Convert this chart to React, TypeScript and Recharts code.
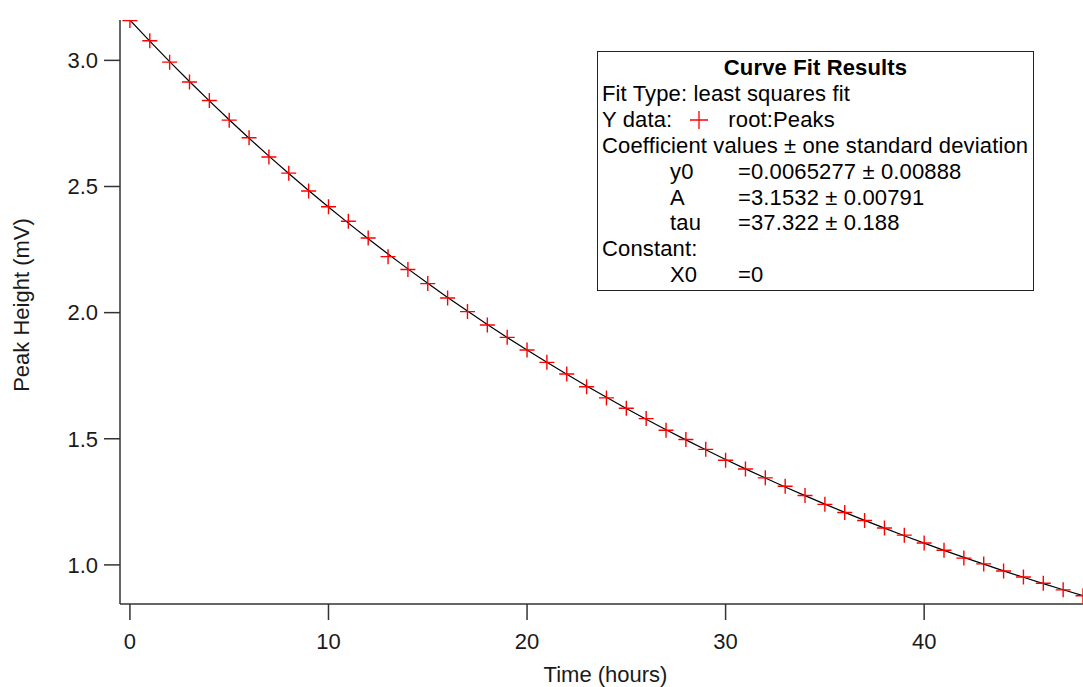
import { ComposedChart, Line, Scatter, XAxis, YAxis, Label } from "recharts";

const hours = [
  0, 1, 2, 3, 4, 5, 6, 7, 8, 9, 10, 11, 12, 13, 14, 15, 16, 17, 18, 19, 20, 21, 22, 23, 24,
  25, 26, 27, 28, 29, 30, 31, 32, 33, 34, 35, 36, 37, 38, 39, 40, 41, 42, 43, 44, 45, 46, 47, 48,
];

// measured peak heights (mV)
const peaks = [
  3.158, 3.078, 2.993, 2.914, 2.841, 2.763, 2.693, 2.617, 2.553, 2.482, 2.42, 2.362, 2.296,
  2.222, 2.171, 2.115, 2.058, 2.004, 1.951, 1.902, 1.852, 1.803, 1.757, 1.706, 1.662, 1.621,
  1.58, 1.534, 1.497, 1.458, 1.415, 1.38, 1.345, 1.312, 1.275, 1.24, 1.208, 1.176, 1.146,
  1.118, 1.087, 1.058, 1.027, 1.004, 0.976, 0.952, 0.927, 0.901, 0.878,
];

// fitted curve values at each hour
const fitted = [
  3.1597, 3.0764, 2.9952, 2.9162, 2.8393, 2.7644, 2.6915, 2.6205, 2.5514, 2.4841, 2.4186,
  2.3548, 2.2928, 2.2323, 2.1735, 2.1162, 2.0604, 2.0061, 1.9532, 1.9018, 1.8517, 1.8029,
  1.7554, 1.7092, 1.6642, 1.6203, 1.5777, 1.5361, 1.4957, 1.4563, 1.418, 1.3807, 1.3443,
  1.309, 1.2745, 1.241, 1.2084, 1.1766, 1.1457, 1.1156, 1.0862, 1.0577, 1.0299, 1.0029,
  0.9765, 0.9509, 0.9259, 0.9016, 0.8779,
];

const xTicks = [0, 10, 20, 30, 40];
const yTicks = [1.0, 1.5, 2.0, 2.5, 3.0];

const fitRows = [
  ["y0", "=0.0065277 ± 0.00888"],
  ["A", "=3.1532 ± 0.00791"],
  ["tau", "=37.322 ± 0.188"],
];

const data = hours.map((h, i) => ({ hour: h, peak: peaks[i], fit: fitted[i] }));

const FONT = "'Liberation Sans', Arial, sans-serif";
const AXIS = "#333";
const FS = 22;

const Plus = (props: any) => {
  const { cx, cy } = props;
  if (cx == null || cy == null) return null;
  return (
    <path
      d={`M${cx - 7.5},${cy}h15M${cx},${cy - 7.5}v15`}
      stroke="#ff0000"
      strokeWidth={1.4}
      fill="none"
    />
  );
};

const FitBox = () => (
  <div
    style={{
      position: "absolute",
      left: 597,
      top: 51,
      width: 437,
      height: 240,
      boxSizing: "border-box",
      border: "1.5px solid #222",
      background: "#fff",
      fontFamily: FONT,
      fontSize: FS,
      letterSpacing: "0.14px",
      lineHeight: "25.9px",
      color: "#000",
      padding: "3px 0 0 4px",
      whiteSpace: "nowrap",
    }}
  >
    <div style={{ textAlign: "center", fontWeight: "bold", paddingRight: 4 }}>Curve Fit Results</div>
    <div>Fit Type: least squares fit</div>
    <div>
      Y data:
      <svg width={18} height={18} style={{ marginLeft: 18, marginRight: 20, verticalAlign: -2 }}>
        <path d="M0,9h18M9,0v18" stroke="#ff0000" strokeWidth={1.3} />
      </svg>
      root:Peaks
    </div>
    <div>Coefficient values ± one standard deviation</div>
    {fitRows.map(([k, v]) => (
      <div key={k} style={{ paddingLeft: 68 }}>
        <span style={{ display: "inline-block", width: 68 }}>{k}</span>
        {v}
      </div>
    ))}
    <div>Constant:</div>
    <div style={{ paddingLeft: 68 }}>
      <span style={{ display: "inline-block", width: 68 }}>X0</span>=0
    </div>
  </div>
);

export default function App() {
  return (
    <div style={{ position: "absolute", left: 0, top: 0, width: 1083, height: 687, background: "#fff" }}>
      <ComposedChart
        width={1083}
        height={687}
        data={data}
        margin={{ top: 20, right: 0, bottom: 0, left: 0 }}
      >
        <XAxis
          dataKey="hour"
          type="number"
          domain={[-0.5, 48]}
          ticks={xTicks}
          allowDataOverflow
          height={83}
          stroke={AXIS}
          strokeWidth={1.5}
          tickSize={16}
          tickMargin={13}
          tick={{ fill: "#1a1a1a", fontSize: FS, fontFamily: FONT }}
        >
          <Label
            value="Time (hours)"
            position="insideBottom"
            offset={5}
            dx={4}
            style={{ fill: "#1a1a1a", fontSize: FS, fontFamily: FONT }}
          />
        </XAxis>
        <YAxis
          type="number"
          domain={[0.845, 3.16]}
          ticks={yTicks}
          allowDataOverflow
          width={120}
          stroke={AXIS}
          strokeWidth={1.5}
          tickSize={16}
          tickMargin={6}
          tickFormatter={(v: number) => v.toFixed(1)}
          tick={{ fill: "#1a1a1a", fontSize: FS, fontFamily: FONT }}
        >
          <Label
            content={() => (
              <text
                transform="translate(29,305) rotate(-90)"
                textAnchor="middle"
                fill="#1a1a1a"
                fontSize={FS}
                fontFamily={FONT}
              >
                Peak Height (mV)
              </text>
            )}
          />
        </YAxis>
        <Scatter dataKey="peak" shape={<Plus />} isAnimationActive={false} />
        <Line
          type="linear"
          dataKey="fit"
          stroke="#000"
          strokeWidth={1.2}
          dot={false}
          activeDot={false}
          isAnimationActive={false}
        />
      </ComposedChart>
      <FitBox />
    </div>
  );
}
